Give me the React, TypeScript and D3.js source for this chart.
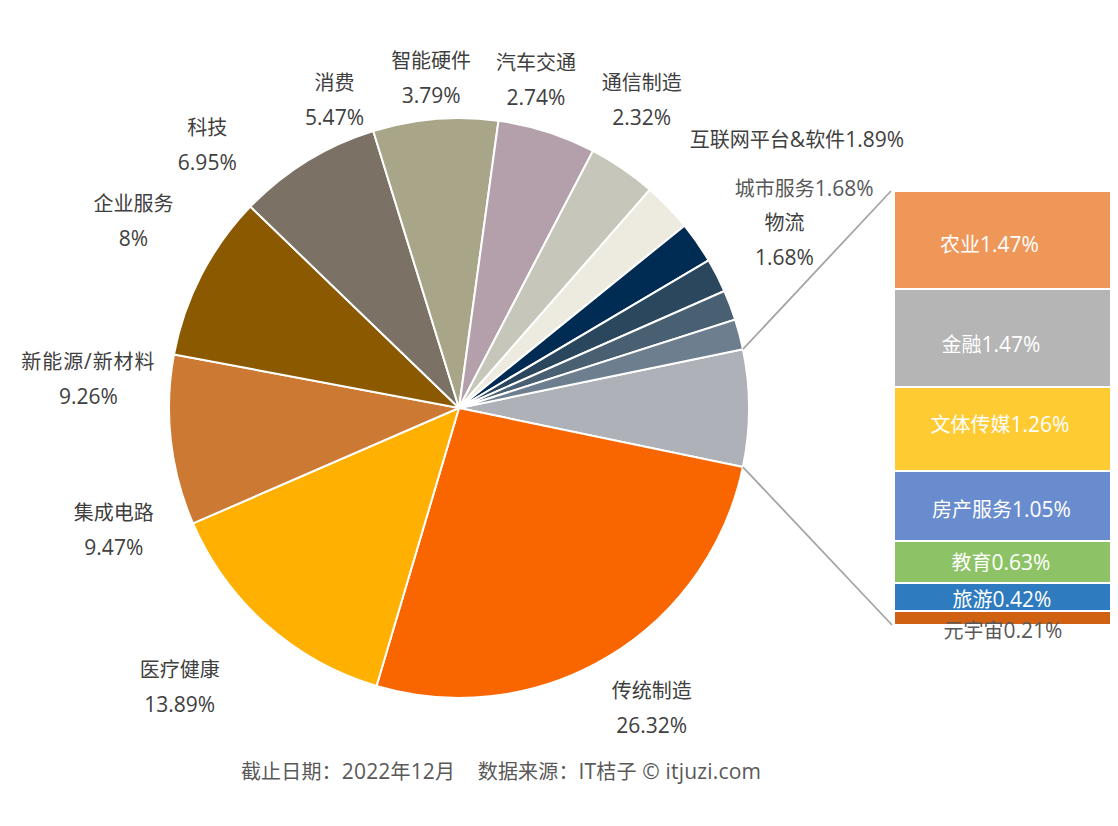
import * as d3 from "d3";

// slices clockwise, starting from the grey "others" slice that opens into the bar
const pieNames = ["其他", "传统制造", "医疗健康", "集成电路", "新能源/新材料", "企业服务", "科技", "消费", "智能硬件", "汽车交通", "通信制造", "互联网平台&软件", "城市服务", "物流"];
const pieValues = [6.51, 26.32, 13.89, 9.47, 9.26, 8, 6.95, 5.47, 3.79, 2.74, 2.32, 1.89, 1.68, 1.68];
const pieColors = ["#AEB1B7", "#F96600", "#FFB000", "#CC7A33", "#8B5A00", "#7B7265", "#A8A589", "#B3A0AA", "#C6C6BA", "#EDEBE0", "#002B53", "#2A475E", "#496072", "#6D7F8E"];

const barNames = ["农业", "金融", "文体传媒", "房产服务", "教育", "旅游", "元宇宙"];
const barValues = [1.47, 1.47, 1.26, 1.05, 0.63, 0.42, 0.21];
const barColors = ["#EF9759", "#B5B5B5", "#FFCB33", "#688CCD", "#8DC366", "#2E7BBF", "#D16112"];

const footer = "截止日期：2022年12月\u00A0\u00A0\u00A0\u00A0数据来源：IT桔子 © itjuzi.com";

// layout
const width = 1118;
const height = 826;
const cx = 459;
const cy = 408;
const radius = 290;
const startDeg = 78.3;
const barX = 894;
const barW = 217;
const barTop = 191;
const barBottom = 625;
const inlineLabels = ["互联网平台&软件", "城市服务"];
// label centre relative to the slice's outer mid point
const labelNudge: Record<string, [number, number]> = {
  传统制造: [44, 51],
  医疗健康: [-87, 61],
  集成电路: [-57, 89.5],
  "新能源/新材料": [-113, 104],
  企业服务: [-173.5, 59.5],
  科技: [-228, 26],
  消费: [-212.5, -32],
  智能硬件: [-191.5, -91],
  汽车交通: [-132, -127],
  通信制造: [-55.5, -143],
  "互联网平台&软件": [80, -136],
  城市服务: [74, -117],
  物流: [45, -94.5],
};
// bar label centre relative to its segment centre
const barLabelNudge: [number, number][] = [
  [-13, 4],
  [-11.5, 6],
  [-2.5, -5],
  [-1, 3],
  [-1.5, 0],
  [-0.5, 2],
  [0.5, 12],
];

const fontFamily = "'Open Sans', 'Noto Sans CJK SC', sans-serif";

// latin runs read a little larger than the CJK ones in the original
const runs = (s: string) =>
  (s.match(/[\x20-\x7e©\u00A0]+|[^\x20-\x7e©\u00A0]+/g) || []).map((r, i) => (
    <tspan key={i} fontSize={/^[\x20-\x7e©\u00A0]/.test(r) ? 21 : 20}>
      {r}
    </tspan>
  ));

const App = () => {
  const rad = (d: number) => (d * Math.PI) / 180;
  const pie = d3
    .pie<number>()
    .sort(null)
    .startAngle(rad(startDeg))
    .endAngle(rad(startDeg + 360));
  const slices = pie(pieValues);
  const arc = d3.arc<d3.PieArcDatum<number>>().innerRadius(0).outerRadius(radius);

  const barY = d3.scaleLinear().domain([0, d3.sum(barValues)]).range([barTop, barBottom]);
  const barStarts = d3.cumsum([0, ...barValues]);

  const polar = (a: number): [number, number] => [cx + radius * Math.sin(a), cy - radius * Math.cos(a)];
  const first = slices[0];
  const topPt = polar(first.startAngle);
  const bottomPt = polar(first.endAngle);

  return (
    <svg width={width} height={height} style={{ position: "absolute", left: 0, top: 0, background: "#fff" }} fontFamily={fontFamily}>
      <g transform={`translate(${cx},${cy})`}>
        {slices.map((d, i) => (
          <path key={pieNames[i]} d={arc(d) as string} fill={pieColors[i]} stroke="#fff" strokeWidth={2} />
        ))}
      </g>

      <line x1={topPt[0]} y1={topPt[1]} x2={barX - 3} y2={barTop} stroke="#A5A5A5" strokeWidth={1.8} />
      <line x1={bottomPt[0]} y1={bottomPt[1]} x2={barX - 2} y2={barBottom} stroke="#A5A5A5" strokeWidth={1.8} />

      {barValues.map((v, i) => (
        <rect
          key={barNames[i]}
          x={barX}
          y={barY(barStarts[i])}
          width={barW}
          height={barY(barStarts[i + 1]) - barY(barStarts[i])}
          fill={barColors[i]}
          stroke="#fff"
          strokeWidth={2}
        />
      ))}
      {barValues.map((v, i) => {
        const y0 = barY(barStarts[i]);
        const y1 = barY(barStarts[i + 1]);
        const last = i === barValues.length - 1;
        return (
          <text
            key={barNames[i]}
            x={barX + barW / 2 + barLabelNudge[i][0]}
            y={(y0 + y1) / 2 + barLabelNudge[i][1]}
            textAnchor="middle"
            dominantBaseline="central"
            fontSize={20}
            fill={last ? "#595959" : "#fff"}
          >
            {runs(barNames[i] + v + "%")}
          </text>
        );
      })}

      {slices.slice(1).map((d, i) => {
        const name = pieNames[i + 1];
        const mid = (d.startAngle + d.endAngle) / 2;
        const [px, py] = polar(mid);
        const [dx, dy] = labelNudge[name];
        const x = px + dx;
        const y = py + dy;
        const color = name === "城市服务" ? "#595959" : "#404040";
        if (inlineLabels.includes(name)) {
          return (
            <text key={name} x={x} y={y} textAnchor="middle" dominantBaseline="central" fontSize={20} fill={color}>
              {runs(name + d.value + "%")}
            </text>
          );
        }
        return (
          <g key={name} fontSize={20} fill={color} textAnchor="middle">
            <text x={x} y={y - 17.5} dominantBaseline="central" letterSpacing={name.includes("/") ? 0.9 : 0}>{runs(name)}</text>
            <text x={x} y={y + 17.5} dominantBaseline="central">{runs(d.value + "%")}</text>
          </g>
        );
      })}

      <text x={501} y={770.5} textAnchor="middle" dominantBaseline="central" fontSize={20} fill="#595959" letterSpacing={0.17}>
        {runs(footer)}
      </text>
    </svg>
  );
};

export default App;
